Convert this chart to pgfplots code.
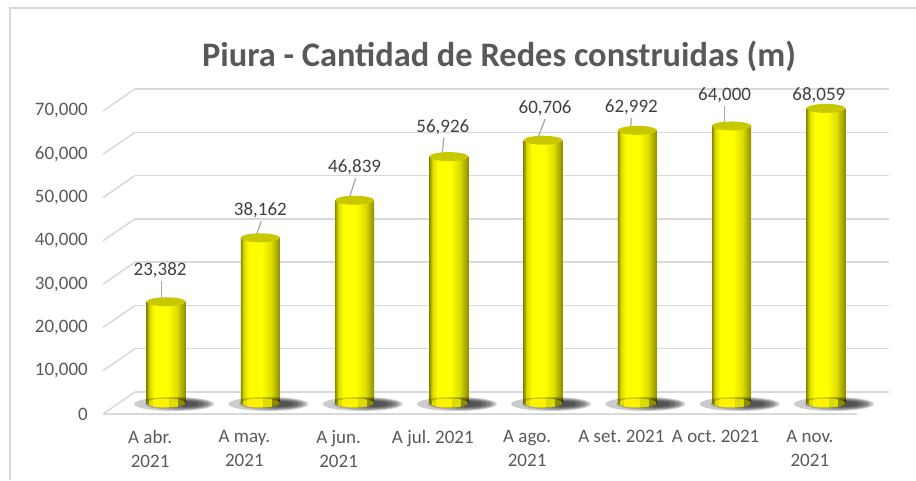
\documentclass[border=0pt]{standalone}
\usepackage{pgfplots}
\usepackage{pgfplotstable}
\pgfplotsset{compat=1.18}
\usepackage{fontspec}
\setmainfont{Carlito}
\definecolor{gridc}{HTML}{D9D9D9}
\definecolor{txt}{HTML}{595959}
\definecolor{lbl}{HTML}{404040}
\definecolor{leadc}{HTML}{A6A6A6}
\definecolor{topc}{HTML}{C8C800}
\definecolor{cdark}{HTML}{8C8C00}
\definecolor{cmid}{HTML}{DCDC00}
\pgfdeclarehorizontalshading{cyl}{100bp}{color(0bp)=(cdark); color(25bp)=(cdark); color(29bp)=(cmid); color(36bp)=(yellow); color(52bp)=(yellow); color(64bp)=(cmid); color(75bp)=(cdark); color(100bp)=(cdark)}
\pgfdeclareplotmark{cyltop}{\pgfpathellipse{\pgfpointorigin}{\pgfpoint{19.5pt}{0pt}}{\pgfpoint{0pt}{4.5pt}}\pgfusepath{fill}}
\pgfdeclareplotmark{cylbase}{%
  \begin{pgfscope}
  \pgfpathellipse{\pgfpointorigin}{\pgfpoint{19.5pt}{0pt}}{\pgfpoint{0pt}{4.5pt}}\pgfusepath{clip}%
  \pgfsetfillcolor{cdark}\pgfpathrectanglecorners{\pgfpoint{-20pt}{-5pt}}{\pgfpoint{20pt}{5pt}}\pgfusepath{fill}%
  \pgfsetfillcolor{cmid}\pgfpathrectanglecorners{\pgfpoint{-17pt}{-5pt}}{\pgfpoint{12pt}{5pt}}\pgfusepath{fill}%
  \pgfsetfillcolor{yellow}\pgfpathrectanglecorners{\pgfpoint{-13pt}{-5pt}}{\pgfpoint{3pt}{5pt}}\pgfusepath{fill}%
  \end{pgfscope}}
\pgfdeclareplotmark{cylshadow}{%
  \begin{pgfscope}
  \pgfsetfillcolor{black}\pgfsetfillopacity{0.2}%
  \pgfpathellipse{\pgfpoint{8pt}{-1pt}}{\pgfpoint{40pt}{0pt}}{\pgfpoint{0pt}{7pt}}\pgfusepath{fill}%
  \pgfpathellipse{\pgfpoint{12pt}{-1pt}}{\pgfpoint{33pt}{0pt}}{\pgfpoint{0pt}{5.8pt}}\pgfusepath{fill}%
  \pgfpathellipse{\pgfpoint{16pt}{-1pt}}{\pgfpoint{26pt}{0pt}}{\pgfpoint{0pt}{4.8pt}}\pgfusepath{fill}%
  \pgfpathellipse{\pgfpoint{19pt}{-1pt}}{\pgfpoint{19pt}{0pt}}{\pgfpoint{0pt}{3.8pt}}\pgfusepath{fill}%
  \pgfpathellipse{\pgfpoint{21pt}{-1pt}}{\pgfpoint{12pt}{0pt}}{\pgfpoint{0pt}{2.8pt}}\pgfusepath{fill}%
  \end{pgfscope}}

\pgfplotstableread{
x y
0 23382
1 38162
2 46839
3 56926
4 60706
5 62992
6 64000
7 68059
}\data
\pgfplotstableread{
x y
0 0
1 0
2 0
3 0
4 0
5 0
6 0
7 0
}\base

\pgfplotsset{base/.style={scale only axis, width=754pt, height=303pt,
  xmin=-0.5, xmax=7.5, ymin=0, ymax=70000, anchor=south west, clip=false,
  axis line style={draw=none}, major tick length=0pt, scaled y ticks=false}}

\begin{document}
\frenchspacing
\begin{tikzpicture}
\useasboundingbox (0,0) rectangle (916pt,480pt);
\draw[gridc, line width=2pt] (10pt,0) -- (10pt,471.5pt) -- (916pt,471.5pt);
\node[font=\bfseries\fontsize{34.4}{40}\selectfont, text=txt, anchor=base] at (499pt,413pt) {Piura - Cantidad de Redes construidas (m)};

% back wall
\begin{axis}[base, at={(135pt,88pt)}, xtick=\empty, ytick={0,10000,...,70000},
  yticklabels={}, ymajorgrids, grid style={gridc, line width=1.5pt}]
\addplot[draw=none] coordinates {(0,0)};
\end{axis}

% bars (mid plane)
\begin{axis}[base, at={(119pt,77pt)}, xtick=\empty, ytick=\empty]
\addplot[only marks, mark=cylshadow] table[x=x,y=y] {\base};
\addplot[only marks, mark=cylbase] table[x=x,y=y] {\base};
\pgfplotsinvokeforeach{0,...,7}{
\addplot[ybar, bar width=39pt, bar shift=0pt, draw=none, shade, shading=cyl, shading angle=0,
  restrict expr to domain={\coordindex}{#1:#1}] table[x=x,y=y] {\data};
}
\addplot[only marks, mark=cyltop, mark options={fill=topc, draw=none}] table[x=x,y=y] {\data};
\begin{scope}[every node/.style={font=\fontsize{19}{22}\selectfont, text=lbl, inner sep=0pt}]
\node (l0) at ([shift={(-6pt,31.8pt)}]axis cs:0,23382) {23,382};
\node (l1) at ([shift={(0pt,27.8pt)}]axis cs:1,38162) {38,162};
\node (l2) at ([shift={(0pt,33.2pt)}]axis cs:2,46839) {46,839};
\node (l3) at ([shift={(-6pt,29.6pt)}]axis cs:3,56926) {56,926};
\node (l4) at ([shift={(2pt,32.2pt)}]axis cs:4,60706) {60,706};
\node (l5) at ([shift={(-6pt,23.3pt)}]axis cs:5,62992) {62,992};
\node (l6) at ([shift={(-7pt,30.9pt)}]axis cs:6,64000) {64,000};
\node (l7) at ([shift={(-7pt,13.4pt)}]axis cs:7,68059) {68,059};
\end{scope}
\begin{scope}[leadc, line width=1.2pt]
\draw ([shift={(1pt,-3pt)}]l0.south) -- ([xshift=-5pt]axis cs:0,23382);
\draw ([shift={(1pt,-3pt)}]l1.south) -- ([xshift=-5pt]axis cs:1,38162);
\draw ([shift={(1pt,-3pt)}]l2.south) -- ([xshift=-6pt]axis cs:2,46839);
\draw ([shift={(1pt,-3pt)}]l3.south) -- ([xshift=-7pt]axis cs:3,56926);
\draw ([shift={(0pt,-3pt)}]l4.south) -- ([xshift=-6pt]axis cs:4,60706);
\draw ([shift={(0pt,-3pt)}]l5.south) -- ([xshift=-7pt]axis cs:5,62992);
\draw ([shift={(0pt,-3pt)}]l6.south) -- ([xshift=-7pt]axis cs:6,64000);
\end{scope}
\end{axis}

% front plane with labels
\begin{axis}[base, at={(103pt,66pt)},
  xtick={0,...,7},
  xticklabels={{A abr.\\2021},{A may.\\2021},{A jun.\\2021},{A jul. 2021},{A ago.\\2021},{A set. 2021},{A oct. 2021},{A nov.\\2021}},
  ytick={0,10000,...,70000},
  yticklabels={0,{10,000},{20,000},{30,000},{40,000},{50,000},{60,000},{70,000}},
  every tick label/.append style={font=\fontsize{19}{24}\selectfont, text=txt},
  xticklabel style={align=center, yshift=-13pt},
  yticklabel style={anchor=east, inner sep=0pt, xshift=-15pt}]
\addplot[draw=none] coordinates {(0,0)};
\draw[gridc, line width=1.8pt] (axis cs:-0.5,0) -- (axis cs:7.5,0);
\pgfplotsinvokeforeach{0,10000,20000,30000,40000,50000,60000,70000}{
  \draw[gridc, line width=1.5pt] (axis cs:-0.5,#1) -- ++(32pt,22pt);
}
\end{axis}
\end{tikzpicture}
\end{document}
